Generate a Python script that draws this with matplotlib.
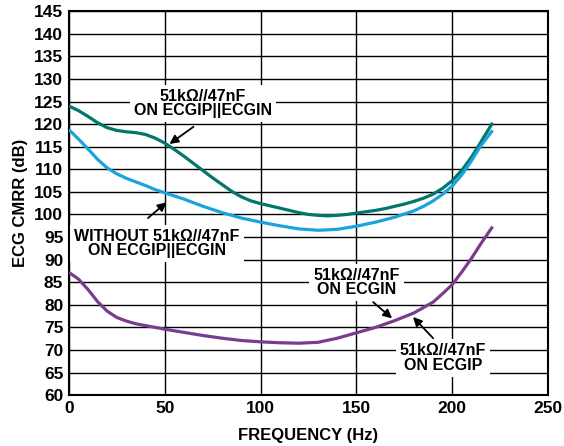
import matplotlib
matplotlib.use('Agg')
import matplotlib.pyplot as plt

plt.rcParams['font.family'] = ['Liberation Sans', 'DejaVu Sans']
plt.rcParams['font.weight'] = 'bold'

# 51k//47nF on ECGIP||ECGIN (teal)
freq_both = [0, 5, 10, 15, 20, 25, 30, 35, 40, 45, 50, 55, 60, 65, 70, 75, 80, 85, 90, 95,
             100, 105, 110, 115, 120, 125, 130, 135, 140, 145, 150, 155, 160, 165, 170, 175,
             180, 185, 190, 195, 200, 205, 210, 215, 221]
cmrr_both = [124.0, 123.0, 121.7, 120.3, 119.2, 118.6, 118.3, 118.1, 117.7, 116.9, 115.8, 114.4,
             112.9, 111.3, 109.7, 108.1, 106.6, 105.1, 103.9, 103.0, 102.4, 101.9, 101.4, 100.9,
             100.4, 100.0, 99.8, 99.7, 99.8, 100.0, 100.3, 100.6, 100.9, 101.3, 101.8, 102.3,
             102.9, 103.6, 104.5, 105.8, 107.5, 109.8, 112.7, 116.1, 120.3]

# without 51k//47nF (blue)
freq_none = [0, 5, 10, 15, 20, 25, 30, 35, 40, 45, 50, 55, 60, 70, 80, 90, 100, 110, 120, 130,
             140, 150, 160, 170, 180, 185, 190, 195, 200, 205, 210, 215, 221]
cmrr_none = [118.8, 116.7, 114.5, 112.2, 110.3, 109.0, 108.0, 107.2, 106.4, 105.5, 104.8, 104.1,
             103.4, 101.8, 100.4, 99.2, 98.3, 97.5, 96.8, 96.5, 96.7, 97.4, 98.3, 99.4, 100.8,
             101.8, 103.0, 104.5, 106.3, 108.8, 111.9, 115.3, 118.6]

# 51k//47nF on ECGIN / ECGIP (purple)
freq_single = [0, 5, 10, 15, 20, 25, 30, 35, 40, 50, 60, 70, 80, 90, 100, 110, 120, 130, 140,
               150, 160, 170, 180, 190, 195, 200, 205, 210, 215, 221]
cmrr_single = [87.2, 85.7, 83.4, 80.7, 78.6, 77.2, 76.4, 75.8, 75.4, 74.6, 73.9, 73.2, 72.6, 72.1,
               71.8, 71.6, 71.5, 71.7, 72.6, 73.8, 75.0, 76.5, 78.2, 80.6, 82.5, 84.5, 87.3, 90.3,
               93.6, 97.3]

fig = plt.figure(figsize=(5.64, 4.46), dpi=100)
ax = fig.add_axes([0.122, 0.114, 0.850, 0.861])

line_kw = dict(lw=2.3, zorder=3, solid_joinstyle='round', solid_capstyle='butt')
ax.plot(freq_both, cmrr_both, color='#00766c', **line_kw)
ax.plot(freq_none, cmrr_none, color='#1ba3dc', **line_kw)
ax.plot(freq_single, cmrr_single, color='#7a3d8e', **line_kw)

ax.set_xlim(0, 250)
ax.set_ylim(60, 145)
ax.set_xticks(range(0, 251, 50))
ax.set_yticks(range(60, 146, 5))
ax.tick_params(length=0, labelsize=12.5, pad=4)
ax.grid(True, color='black', lw=1.0)
ax.set_axisbelow(True)
for s in ax.spines.values():
    s.set_linewidth(1.5)
ax.set_xlabel('FREQUENCY (Hz)', fontsize=12, fontweight='bold', labelpad=9)
ax.set_ylabel('ECG CMRR (dB)', fontsize=12, fontweight='bold', labelpad=4)

box = dict(boxstyle='square,pad=0.25', fc='white', ec='none')
arr = dict(arrowstyle='-|>', color='black', lw=1.3, mutation_scale=13, shrinkA=0, shrinkB=0)
txt_kw = dict(ha='center', va='center', fontsize=11.5, linespacing=0.95, bbox=box, zorder=4)

ax.text(70, 124.6, '51kΩ//47nF\nON ECGIP||ECGIN', **txt_kw)
ax.annotate('', xy=(52.5, 115.6), xytext=(65, 119.4), arrowprops=arr, zorder=5)

ax.text(46, 93.6, 'WITHOUT 51kΩ//47nF\nON ECGIP||ECGIN', **txt_kw)
ax.annotate('', xy=(51, 102.7), xytext=(41.3, 99.2), arrowprops=arr, zorder=5)

ax.text(150, 85, '51kΩ//47nF\nON ECGIN', **txt_kw)
ax.annotate('', xy=(168.6, 77.0), xytext=(158.7, 80.6), arrowprops=arr, zorder=5)

ax.text(195, 68.2, '51kΩ//47nF\nON ECGIP', **txt_kw)
ax.annotate('', xy=(179.5, 77.3), xytext=(190, 72.6), arrowprops=arr, zorder=5)

fig.savefig('out.png', dpi=100)
